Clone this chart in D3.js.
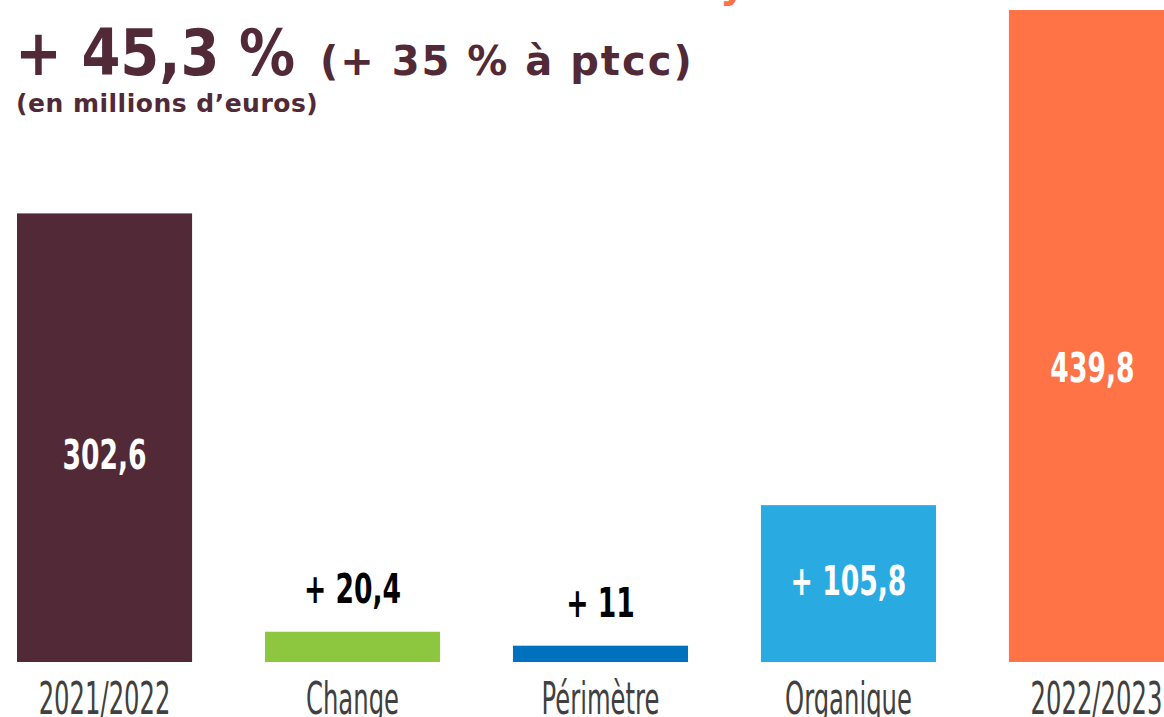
<!DOCTYPE html>
<html>
<head>
<meta charset="utf-8">
<script src="https://cdn.jsdelivr.net/npm/d3@7"></script>
<style>
  html, body { margin: 0; padding: 0; background: #fff; overflow: hidden; }
  svg { display: block; }
  .cond { font-family: "DejaVu Sans Condensed", "DejaVu Sans", sans-serif; }
  .geo { font-family: "DejaVu Sans", sans-serif; font-weight: bold; }
</style>
</head>
<body>
<svg id="chart" width="1164" height="717"></svg>
<script>
// data
var categories = ["2021/2022", "Change", "Périmètre", "Organique", "2022/2023"];
var values = [302.6, 20.4, 11, 105.8, 439.8];
var valueLabels = ["302,6", "+ 20,4", "+ 11", "+ 105,8", "439,8"];
var barColors = ["#522937", "#8dc63f", "#0071bc", "#29abe2", "#ff7347"];
var labelInside = [true, false, false, true, true];

var svg = d3.select("#chart"),
    width = 1164,
    height = 717;

var x = d3.scaleBand()
    .domain(categories)
    .range([17, 1184])
    .paddingInner(0.294)
    .paddingOuter(0);

var y = d3.scaleLinear()
    .domain([0, 439.8])
    .range([662, 10]);

var bars = svg.append("g").selectAll("g")
    .data(categories)
    .enter().append("g");

bars.append("rect")
    .attr("x", function(d) { return x(d); })
    .attr("y", function(d, i) { return y(values[i]); })
    .attr("width", x.bandwidth())
    .attr("height", function(d, i) { return y(0) - y(values[i]); })
    .style("fill", function(d, i) { return barColors[i]; });

// value labels (inside: a bit under the middle, outside: above the bar)
bars.append("text")
    .attr("class", "cond")
    .attr("transform", function(d, i) {
        var cx = x(d) + x.bandwidth() / 2;
        if (i === categories.length - 1) cx = (x(d) + width) / 2 + 6;
        var cy = labelInside[i] ? y(values[i] * 0.43) : y(values[i]) - 29;
        return "translate(" + cx + "," + cy + ") scale(0.74,1)";
    })
    .attr("text-anchor", "middle")
    .style("font-size", "40px")
    .style("font-weight", "bold")
    .style("fill", function(d, i) { return labelInside[i] ? "#fff" : "#000"; })
    .text(function(d, i) { return valueLabels[i]; });

// category labels under the bars
bars.append("text")
    .attr("class", "cond")
    .attr("transform", function(d) {
        return "translate(" + (x(d) + x.bandwidth() / 2) + ",714) scale(0.6,1)";
    })
    .attr("text-anchor", "middle")
    .style("font-size", "45px")
    .style("fill", "#404040")
    .text(function(d) { return d; });

// titles
svg.append("text")
    .attr("class", "geo")
    .attr("x", 720).attr("y", -3)
    .style("font-size", "40px")
    .style("fill", "#ff7347")
    .text("y");

svg.append("text")
    .attr("class", "geo")
    .attr("transform", "translate(15,75) scale(0.875,1)")
    .style("font-size", "64px")
    .style("fill", "#522937")
    .text("+ 45,3 %");

svg.append("text")
    .attr("class", "geo")
    .attr("x", 320).attr("y", 75)
    .style("font-size", "40px")
    .style("letter-spacing", "2px")
    .style("fill", "#522937")
    .text("(+ 35 % à ptcc)");

svg.append("text")
    .attr("class", "geo")
    .attr("x", 16).attr("y", 112)
    .style("font-size", "25px")
    .style("letter-spacing", "0.5px")
    .style("fill", "#522937")
    .text("(en millions d’euros)");
</script>
</body>
</html>
